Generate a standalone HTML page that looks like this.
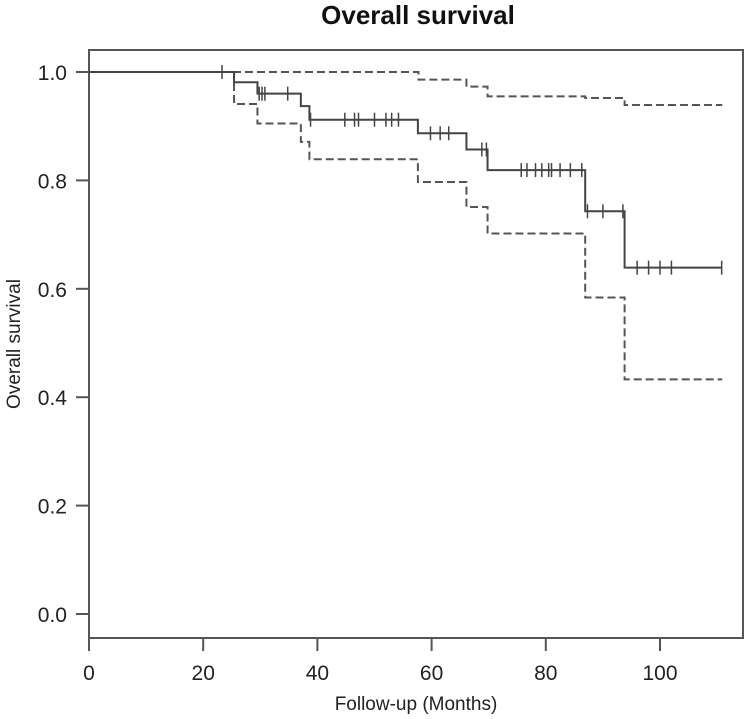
<!DOCTYPE html>
<html><head><meta charset="utf-8"><style>
html,body{margin:0;padding:0;background:#fff;}
svg{display:block;font-family:"Liberation Sans",Arial,sans-serif;}
</style></head><body>
<svg id="chart" width="746" height="719" viewBox="0 0 746 719">
<text x="418" y="24" text-anchor="middle" font-size="26" font-weight="bold" fill="#111">Overall survival</text>
<rect x="89" y="50" width="654" height="588" fill="none" stroke="#555" stroke-width="2"/>
<g id="axes"></g>
<g id="series"></g>
</svg>
<script>
// ---- data ----
const xTicks = [0, 20, 40, 60, 80, 100];
const yTicks = [0.0, 0.2, 0.4, 0.6, 0.8, 1.0];
const survTimes = [0, 25.4, 29.5, 37.1, 38.6, 57.6, 66.1, 69.8, 86.9, 93.8, 110.9];
const survValues = [1.0, 0.981, 0.960, 0.937, 0.912, 0.887, 0.857, 0.819, 0.743, 0.639, 0.639];
const upperTimes = [0, 57.7, 66.1, 69.8, 86.9, 93.8, 110.9];
const upperValues = [1.0, 0.986, 0.973, 0.955, 0.952, 0.939, 0.939];
const lowerTimes = [0, 25.4, 29.5, 37.1, 38.6, 57.6, 66.1, 69.8, 86.9, 93.8, 110.9];
const lowerValues = [1.0, 0.941, 0.905, 0.871, 0.839, 0.797, 0.751, 0.702, 0.584, 0.433, 0.433];
const censorTimes = [23.3, 29.8, 30.3, 30.8, 34.8, 38.8, 44.8, 46.5, 47.2, 50.0, 52.0, 53.0, 54.2, 59.8, 61.5, 63.0, 68.8, 69.6, 75.7, 76.7, 78.2, 79.3, 80.5, 81.0, 82.5, 84.3, 86.3, 87.3, 90.0, 93.5, 96.0, 98.0, 100.0, 102.0, 110.8];

// ---- scales ----
const X0 = 89, X100 = 660;
const Y0 = 614, Y1 = 72;
const sx = t => X0 + (X100 - X0) * t / 100;
const sy = v => Y0 - (Y0 - Y1) * v;
const NS = "http://www.w3.org/2000/svg";
function mk(tag, attrs) { const e = document.createElementNS(NS, tag); for (const k in attrs) e.setAttribute(k, attrs[k]); return e; }

const axes = document.getElementById('axes');
xTicks.forEach(t => {
  const l = mk('line', {x1: sx(t), x2: sx(t), y1: 638, y2: 651, stroke: '#555', 'stroke-width': 2});
  
  
  axes.appendChild(l);
  const tx = mk('text', {x: sx(t), y: 680, 'text-anchor': 'middle', 'font-size': 21, fill: '#222'});
  tx.textContent = String(t);
  
  
  axes.appendChild(tx);
});
yTicks.forEach(v => {
  const l = mk('line', {x1: 76, x2: 89, y1: sy(v), y2: sy(v), stroke: '#555', 'stroke-width': 2});
  
  
  axes.appendChild(l);
  const tx = mk('text', {x: 67, y: sy(v) + 8, 'text-anchor': 'end', 'font-size': 21, fill: '#222'});
  tx.textContent = v.toFixed(1);
  
  
  axes.appendChild(tx);
});
const xt = mk('text', {x: 416, y: 710, 'text-anchor': 'middle', 'font-size': 19, fill: '#222'});
xt.textContent = 'Follow-up (Months)';


axes.appendChild(xt);
const yt = mk('text', {x: 0, y: 0, 'text-anchor': 'middle', 'font-size': 19, fill: '#222', transform: 'translate(20,344) rotate(-90)'});
yt.textContent = 'Overall survival';


axes.appendChild(yt);

function stepPath(ts, vs) {
  let d = 'M' + sx(ts[0]) + ',' + sy(vs[0]);
  for (let i = 1; i < ts.length; i++) {
    d += ' H' + sx(ts[i]) + ' V' + sy(vs[i]);
  }
  return d;
}
function survAt(t) {
  let v = survValues[0];
  for (let i = 0; i < survTimes.length; i++) if (survTimes[i] <= t) v = survValues[i];
  return v;
}
const series = document.getElementById('series');
const up = mk('path', {d: stepPath(upperTimes, upperValues), fill: 'none', stroke: '#555', 'stroke-width': 2, 'stroke-dasharray': '8,4'});


series.appendChild(up);
const lo = mk('path', {d: stepPath(lowerTimes, lowerValues), fill: 'none', stroke: '#555', 'stroke-width': 2, 'stroke-dasharray': '8,4'});


series.appendChild(lo);
const sv = mk('path', {d: stepPath(survTimes, survValues), fill: 'none', stroke: '#444', 'stroke-width': 2});


series.appendChild(sv);
censorTimes.forEach(t => {
  const y = sy(survAt(t));
  const c = mk('line', {x1: sx(t), x2: sx(t), y1: y - 7, y2: y + 7, stroke: '#444', 'stroke-width': 1.5});
  
  
  series.appendChild(c);
});
</script>
</body></html>
